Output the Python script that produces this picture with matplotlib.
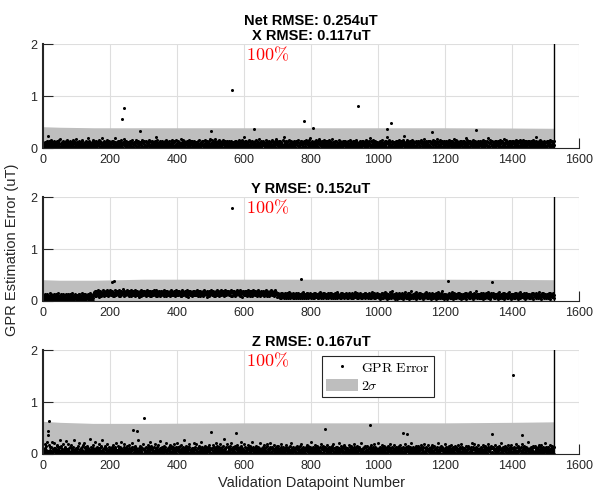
import numpy as np
import matplotlib.pyplot as plt

plt.rcParams['font.family'] = ['Liberation Sans', 'DejaVu Sans']
plt.rcParams['mathtext.fontset'] = 'cm'

# per-point GPR error, base-36 digit = hundredths of uT
X_ERR = """
4a28c5173b 6e29o8d41a 7c3f5b2816 a0e49372c5 d18b64a3f2
2h7305b94d 1862ca07e3 58g2b4190d 7635a2c8f1 49e0b73h52
8c1a6d4927 03b5e8g162 a49c3705d2 b8k61e4a93 7205c68b1f
3e9a4172d5 0c68b3f921 e47a05j83c 6d2914b7a0 5f83c26e19
71b4a0d8e3 629c5j1738 b04ad26e91 c3f7582a0b 6h14d93e72
5a0c8b2617 e4d39f1a72 08c5b6g341 9e2d7a05c3 8b16f4a920
d7263c1e59 4b8a0g3d62 17c95e2b40 a8d36l1c74 f2905b3e68
1c4a7e92b3 60d58f2a17 c3b94e0681 a5d2g73c9b 4e16082fa5
9b3d16c4a0 72i58b1f39 d4a6270ce5 8b31f94a62 0d7c5e3b18
6e29a4c173 b5d8f0261a 3c9e7b4d58 02a6f1c93e 7b4d81h052
a3f6c18d42 9e0h5273c7 d1a84f6b29 3c5e0g8a71 b62d94c3e5
08b71e4a3d 6c2f9b5180 a4d7e3c962 1b8f05a4d3 e7g26b91m0
5d93a6e1c8 2b704g8d3a 61e9c5b274 0a3d8f6e12 c9b5i47a30
e18c3b6d95 a420f7c3e8 16b9d25a40 c7e3f18b64 2d9a0i5e73
4b6e9a2d17 c8053f1m6e a92d47c0b3 5e18f6a9d2 74c30b8e61
7a2d0c5e9b 3f6148a2d7 e0c5b93e16 8a4d2f7b05 c91g6a3k48
b5e80c27a4 d3961f4b8e 2a7i05d93b 6e1a4c8f27 093d5b6e1a
2c9f6a1e4b 850h3c7a29 e6b14d8c53 0f7a2e9b61 4c8d03a5e7
d61a8c3b95 e2047g9a3c 5b8e16d2a0 7c4f93b1e8 6a25d0c749
8e3b5d0a69 c14f72e8b3 9a6d05j1e4 b27f8a3d60 e5c19b4a72
0a6c2e8b4d 1f593a7c0e 6b2d84l9a1 c35f07b6d2 8e4a19c3b5
5c1e7a3d90 b46f2c8e15 a03g9b6n72 4c18f5a0d3 7b9e26c4a1
f3a8d1b6c0 492e7a5c8d 1b63e0f9a4 d75c2b8h06 3a9d41c7e2
6d0b4e9a23 c7f15b8d6e 0a34c9h2b7 1d58f6a3c0 9e2b74d8a6
2b7e5a1c8d 0f39c6a4e2 d81b5h07c3 a6f24d9b18 5c0e73a6d4
a4c9e2d71b 638kf5c2a9 e1d74b6a0c 3f8e52b9d1 07a6c4e3b8
c0e6b3a85d 2f917c4e0a 8b5d36j2c1 a4f09b7d53 e6c18a2d49
3d8a5c0e6b 41f72d9a3e c06b8i5a24 d9f13c7b0e 5a2d86c4e1
9a1e4c7b3d 05f8a2c6e0 b43g9e1a75 c2f6b80d3a 7e4c15a9d6
e7c2a5d0b8 36g91e4c7m 2d5b80a3e9 c61f4d7b28 0a5e93c6b4
1b6d3e8a4c 9f27053c1e a84d6
"""

Y_ERR = """
5a3c7e2b94 d6185c3a7f 24b9e06c83 a5d2718b4e 3c96f0a275
8b3d15a7c2 e6094b8d31 7c5a2e9b46 0d381f5c7a 2b64e9a083
6c1a8d4e27 b935f0c6a1 8e2d47b3c9 5a06e8d1b4 f73c9a25e0
fhcjag9kdi ebhmcfj8gd kaeicgbhlf dj9hcekgbi fmaghdcjel
hcgkbfj9ie dhagmcfkbj eighdlaf9k chjbegdnfi agkchbjfem
gdjhbkeaic fl9gjdhcke bihfmagdjc kebgi8hfdj clagfhkbie
jfchdagkbm eigcjhf9dk bhaegjcifl dhkbgema9j fichgdkeba
cgkeihbfjd amgchfk9ej dbihgcfake jlhdgbicfk ehajgdcmib
hbfjdkgcei a9hfmjbcgd eikhfacjgb lde8hgkfcj bidaehgfkc
kfhbgjecid mahfcgk9jb edhigfcajl bkeghdfic8 jgbkaehfdm
ehgcjbfkda igh9fcjemb kdghacfjie blgdhkfcaj emhbgicfdk
gjdhebkcfa hmi9gfcjek bdgahicfjl ehkdgbcmaf jhi8gdekbf
fchkgdjbea imfhgc9kej dbhaglfcki ejgbhdfkac mhjgeb9fdi
ckgfhbjeda igkhmfc9je bdhgafkicj elgdbhfkac jmhgie8bdf
9c7eb5da8f 6gc9b7ea5d 8fb6c9ge7a d5b8hc6f9e a7dcg58be6
c8a6fd9b7e g5ca8e6db9 7fa5ch8e6b d9c7a5gfe8 b6dc9a7fe5
7ebc5a9fd6 8gcb7ea9d5 c6f8b7ahe9 5dca8f6bg7 e9c5da7b8f
a6d9cf7e5b g8ca6db9e7 f5c8ad6bh9 e7cb5a8fd6 9gec7b5ad8
d7f9ac6e8b 5gda7cb9e6 8f6ac5dbe7 9hac8f6d5b e7cag9b6d8
6c8eb9da7f 5gc7a8ebd6 9fac6d8be5 7hcb9a6fe8 d5ca7g8be9
b9e64ca8d7 f6gdb5ace9 i8c6fa4db7 e9a5hcb86f d7kcab9e64
8da6fc49be 7gb5dc8ae6 9fc4ab7dh8 e6ca95bdf7 4ga8cej6b9
c7e5a9bd6f 8h4cb7ae9d 6gacf58bd7 e94cad6bf8 7ica5eb9d6
a8f6dc47be 9gc5bad8e6 7fb4ca9dh6 e8c5ab79fd 6kac8e4bd9
e6b9ca47df 8gd5cb6ae9 7hac4fb8d6 9ec5ad7bf8 6ga9ce4bd7
b7d5ac9e6f 8g4cadb7e9 5fhc6ab8d7 e9c4af6bd8 7jac5e9bd6
d8a6cf5be9 7gc4bad9e6 8fac7b5dh9 e6ca4fb8d7 9gab5ec7d6
c9e7ab4df6 8hc5bad7e9 6gac9f4bd8 e7ca5bf6d9 8iac7e4bd5
a7d9cb5ef6 9gc8bad4e7 6fhc5ab9d8 e7ca6fb4d9 5gac8e7bd6
e8b6ca9d5f 7gd4cbae8c 6fb9ca5dh7 e8c6ab4fd9 7gac5e8bd6
9c7ea5bd8f 6gc4dab9e7 8fac5
"""

Z_ERR = """
2a05k3c81f 4o09b62h3e 1706dn24a9 3b8m0c5172 fi309a4d6r
05c2g81a3j 6092e4b1p7 3a0k58c261 d04h27b93e 160q4a82c5
9b13f06l28 a4c07e25i1 0m3b6d9247 g18c05a3s2 7e409b1h6c
31a8n05c27 e6092k4b13 8d0f51r3a6 04c9g27b10 5j382e6a04
b2075d1i93 0a6e4c28l1 7305gb91d4 2o8c06a317 e9k0452b8f
046a2h1c93 5b07e8m210 3d9f46a0c2 81q53b07g4 2e6a1c90j5
7a13c5e082 4i0b6d19n3 2f0a8c5471 3e6k0b92d5 08h14a7c3p
50c8e2a17g 3b96d0l415 8a0c72e3i9 1f05b4d68k 2c0a3e71m9
0d6b38a4f2 19h05c7e1r 4a26b08g53 c1e9d0j472 6a05b83c1l
93e1a07k52 6c0b4f28d1 n3a06e9c57 1b80g4d2a3 0e7i5c19b6
2a8c06h14e 7b03m9d51f 0c6a2e8k47 3b19d05g2s 8a6c04e1j3
5d0b7a23f9 1l48c06e2a 9g305b1d7h 4a02c6e81o 3f09b5a72k
06e3c18a4b 9i27d05f3a 1c8n0b6e42 7a03g9d15c 2e8b40l6a9
41a9c05e8h 2b07d63f1k 0a5c82e9m4 3b16d0a7i2 5c9e04b8g1
8f02a6c3e5 j1b94d07a2 6c0e8h15b3 9a04d2f7l6 1c8b30e5a9
3a6e0c91g7 4b2d85f0a1 k6c03e9b42 7a1d08h5c6 0f3b92e4n7
0c5a8e1b36 9i04d27f1a 5c83b0e6k2 4a9d01g7c5 3e0b86h1a2
6b19d03a8e 2f7c05j41b 9a06e3d82c 1l5b0a47f9 3c8e06i2b5
4e0a7c2b96 1h83d05f2a 7c0b49e6k1 5a2d80g3c7 0e9b16a4m8
9a3c06e1b5 2g07d84f3a 6c1b05e9h2 4a8d03j7c6 1e0b92a5l4
2c7a0e5b18 3i96d04f1a 8c2b07e4g5 0a9d63k1c8 5e3b04a7h2
7b04d92a6e 1f3c08h52b 4a9e06c1k7 2d5b0a83g6 9c0e41b7m3
0a8e3c61b9 5g24d07f3a 1c6b09e2i8 7a3d50j4c1 6e2b08a9h5
3c9a05e2b7 1h64d08f2a 9c3b07e5l1 4a6d02g8c9 0e5b13a7k6
8d1b60a3e9 2f5c07i41b 6a8e03c9g2 1d7b0a54h8 3c9e06k2b1
5e0a8c3b16 9g27d04f1a 3c5b08e6m2 7a1d90j4c3 2e8b05a6i9
1a7c0e4b95 2h38d06f1a 8c4b02e7k5 6a9d31g0c8 4e2b07a5h1
6b03d85a2e 9f1c07l43b 2a6e09c5g8 3d4b0a71h6 8c5e02i9b4
0c3a9e6b18 4j25d07f3a 7c8b01e2k6 5a3d90g4c7 1e6b08a2n5
9a5c08e3b2 7g14d06f2a 3c9b05e1h8 2a4d71i6c0 8e3b05a9l4
4d8b0a2e61 3h79c05f1a 6b2e0
"""

# points above the coded range (datapoint number, error in uT)
x_out_idx = [235, 243, 290, 500, 564, 630, 780, 805, 939, 1026, 1039, 1160, 1291]
x_out_val = [0.56, 0.77, 0.32, 0.33, 1.12, 0.37, 0.52, 0.38, 0.80, 0.36, 0.48, 0.31, 0.34]
y_out_idx = [205, 212, 565, 770, 1210, 1340]
y_out_val = [0.37, 0.39, 1.79, 0.42, 0.38, 0.37]
z_out_idx = [14, 15, 19, 270, 280, 300, 500, 575, 841, 975, 1075, 1085, 1340, 1402, 1430]
z_out_val = [0.45, 0.36, 0.63, 0.47, 0.45, 0.69, 0.43, 0.40, 0.48, 0.56, 0.40, 0.38, 0.38, 1.53, 0.37]

# 2-sigma band top
band_x = [0, 50, 150, 300, 600, 900, 1200, 1400, 1525]
x_band = [0.41, 0.40, 0.39, 0.39, 0.39, 0.39, 0.39, 0.385, 0.38]
y_band = [0.41, 0.40, 0.40, 0.42, 0.42, 0.42, 0.42, 0.415, 0.41]
z_band = [0.63, 0.61, 0.59, 0.59, 0.60, 0.60, 0.60, 0.61, 0.62]

titles = ['Net RMSE: 0.254uT\nX RMSE: 0.117uT', 'Y RMSE: 0.152uT', 'Z RMSE: 0.167uT']


def decode(s, idx, val):
    e = np.array([int(c, 36) / 100 for c in ''.join(s.split())])
    for i, v in zip(idx, val):
        e[i - 1] = v
    return e


errs = [decode(X_ERR, x_out_idx, x_out_val),
        decode(Y_ERR, y_out_idx, y_out_val),
        decode(Z_ERR, z_out_idx, z_out_val)]
bands = [x_band, y_band, z_band]

fig = plt.figure(figsize=(5.93, 4.99), dpi=100)
bottoms = [0.7034, 0.3968, 0.0902]
axes = []
for k in range(3):
    ax = fig.add_axes([0.0725, bottoms[k], 0.904, 0.208])
    e = errs[k]
    n = len(e)
    xs = np.arange(1, n + 1)
    ax.fill_between(band_x, 0, bands[k], color='#bebebe', lw=0, label=r'$2\sigma$')
    ax.plot(xs, e, 'o', color='k', ms=2.2, mew=0, label=r'$\mathrm{GPR\ Error}$')
    ax.axvline(n, color='k', lw=1)
    ax.set_xlim(0, 1600)
    ax.set_ylim(0, 2)
    ax.set_xticks(np.arange(0, 1601, 200))
    ax.set_yticks([0, 1, 2])
    ax.set_axisbelow(True)
    ax.grid(True, color='#dedede', lw=0.8)
    ax.spines['top'].set_visible(False)
    ax.spines['right'].set_visible(False)
    ax.spines['left'].set_linewidth(1.5)
    ax.spines['left'].set_color('#262626')
    ax.spines['bottom'].set_linewidth(0.8)
    ax.spines['bottom'].set_color('#262626')
    ax.tick_params(direction='in', length=7, width=0.8, colors='#262626',
                   labelsize=9, pad=4)
    ax.set_title(titles[k], fontsize=10.5, fontweight='bold', pad=3, linespacing=1.1)
    ax.text(605, 1.8, r'$100\%$', color='red', fontsize=13, ha='left', va='center')
    axes.append(ax)

h, l = axes[2].get_legend_handles_labels()
leg = axes[2].legend(h[::-1], l[::-1], loc='upper left', bbox_to_anchor=(0.52, 0.94),
                     borderaxespad=0, fancybox=False, edgecolor='#262626', fontsize=10,
                     handlelength=2.3, handleheight=1.0, labelspacing=0.3,
                     borderpad=0.3, handletextpad=0.2, framealpha=1)
leg.get_frame().set_linewidth(0.8)
axes[2].set_xlabel('Validation Datapoint Number', fontsize=10.5, color='#262626', labelpad=3)
fig.text(0.02, 0.5, 'GPR Estimation Error (uT)', rotation=90, fontsize=10.5,
         color='#262626', ha='center', va='center')

fig.savefig('out.png', dpi=100)
